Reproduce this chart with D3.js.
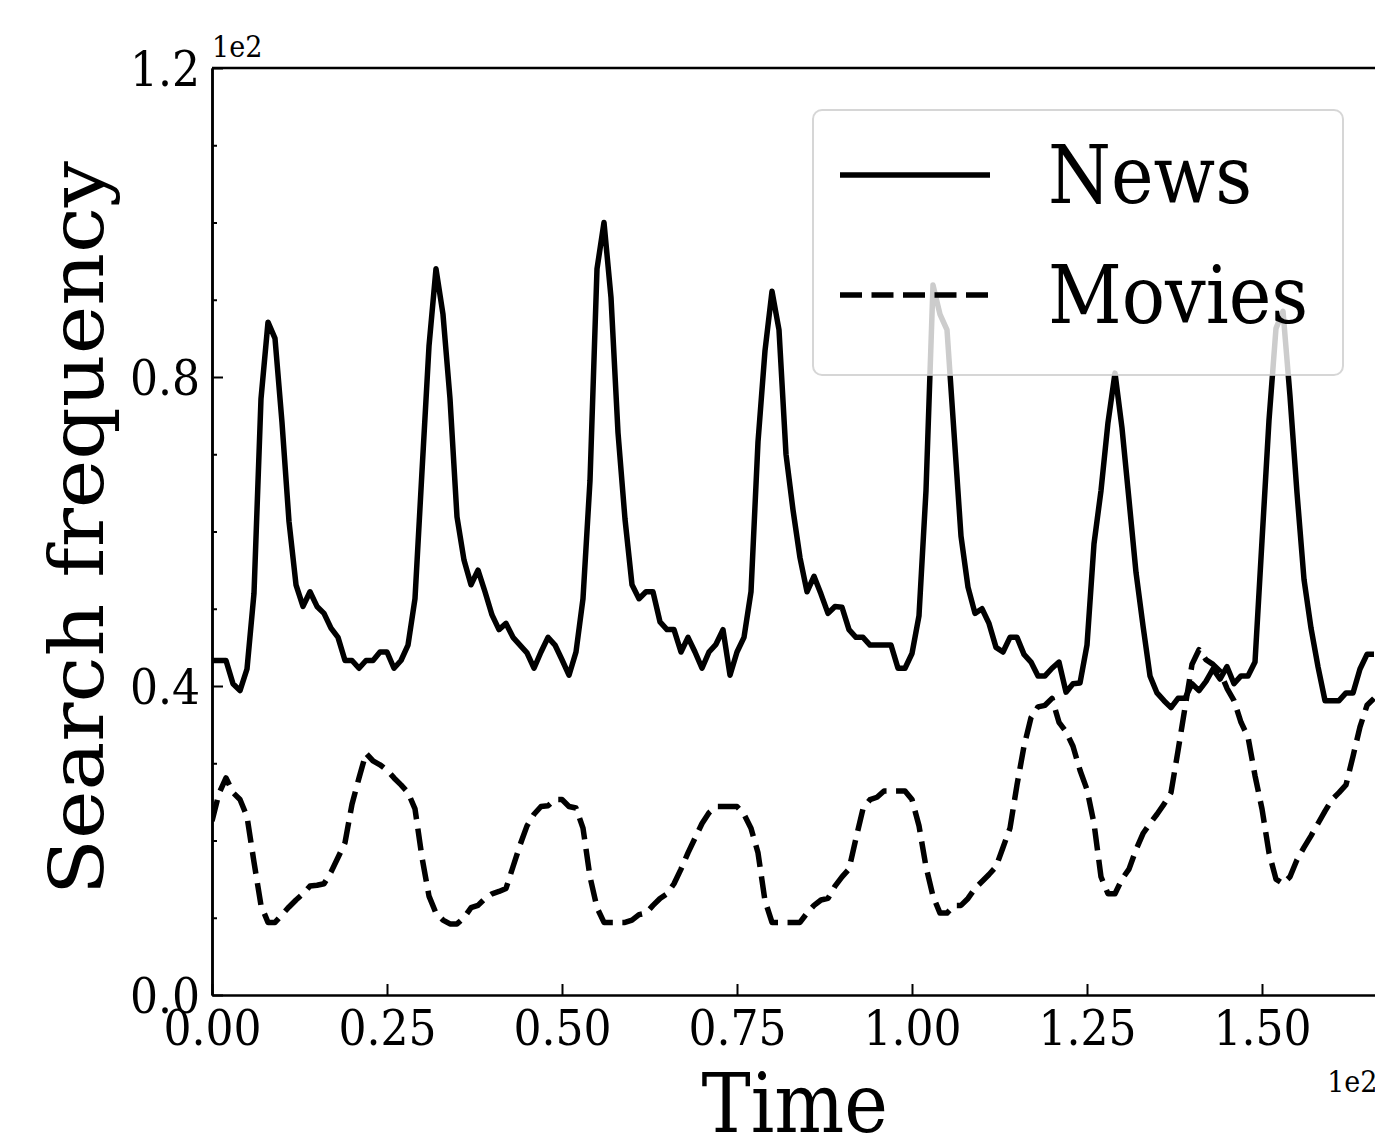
<!DOCTYPE html>
<html>
<head>
<meta charset="utf-8">
<script src="https://cdn.jsdelivr.net/npm/d3@7"></script>
<style>
    body { margin: 0; background: #fff; overflow: hidden; }
    svg { display: block; }
    text { font-family: "DejaVu Serif Condensed", "DejaVu Serif", serif; font-stretch: condensed; fill: #000; }
    text.ylabel { font-family: "DejaVu Serif", serif; font-stretch: normal; }
</style>
</head>
<body>
<div id="container"></div>
<script>
"use strict";

// search frequency per time step (t = 0, 1, 2 ...)
var newsValues = [43.3, 43.3, 43.3, 40.3, 39.4, 42.2, 52, 77.2, 87.1, 85,
    74.1, 61.3, 53.1, 50.3, 52.2, 50.3, 49.4, 47.5, 46.3, 43.3,
    43.3, 42.3, 43.3, 43.3, 44.4, 44.4, 42.3, 43.3, 45.3, 51.3,
    67.8, 84, 94, 88.1, 77.2, 61.9, 56.3, 53.1, 55, 52.2,
    49.2, 47.3, 48.1, 46.3, 45.3, 44.3, 42.3, 44.4, 46.3, 45.3,
    43.4, 41.4, 44.4, 51.3, 66.6, 94, 100, 90.3, 72.8, 61.6,
    53.1, 51.3, 52.2, 52.2, 48.3, 47.3, 47.3, 44.4, 46.3, 44.4,
    42.3, 44.4, 45.4, 47.3, 41.4, 44.4, 46.3, 52.2, 71.6, 83.4,
    91.1, 86.1, 70, 62.8, 56.6, 52.2, 54.2, 51.9, 49.4, 50.3,
    50.2, 47.3, 46.3, 46.3, 45.3, 45.3, 45.3, 45.3, 42.3, 42.3,
    44.2, 49.1, 65.3, 91.9, 88.1, 86.1, 72.8, 59.4, 52.8, 49.4,
    50, 48.1, 45, 44.4, 46.3, 46.3, 44.1, 43.1, 41.3, 41.3,
    42.3, 43.1, 39.2, 40.3, 40.4, 45.3, 58.4, 65.3, 74.1, 80.5,
    73.4, 64.1, 54.7, 47.8, 41.3, 39.1, 38.1, 37.2, 38.4, 38.4,
    40.3, 39.4, 40.6, 42.2, 40.9, 42.5, 40.3, 41.3, 41.3, 43.1,
    58.8, 74.4, 86.3, 88.5, 77.5, 65, 53.8, 47.5, 42.5, 38.1,
    38.1, 38.1, 39.1, 39.1, 42.2, 44.1, 44.1];

var moviesValues = [22.5, 26.1, 28.1, 26.2, 25.3, 23.1, 17.2, 11.6, 9.4, 9.4,
    10.4, 11.4, 12.3, 13.1, 14.1, 14.2, 14.4, 15.9, 17.8, 19.7,
    24.7, 28.1, 31.3, 30.3, 29.8, 29.1, 28.1, 27.2, 26.2, 24.1,
    17.8, 12.8, 10.6, 9.7, 9.2, 9.2, 10, 11.3, 11.6, 12.5,
    13.1, 13.4, 13.8, 16.6, 19.4, 21.9, 23.4, 24.4, 24.5, 25.3,
    25.3, 24.4, 24.2, 21.6, 15.3, 11.3, 9.4, 9.4, 9.4, 9.4,
    9.7, 10.4, 10.6, 11.6, 12.5, 13.1, 14.4, 16.3, 18.4, 20.3,
    22.2, 23.6, 24.4, 24.4, 24.4, 24.4, 23.4, 21.6, 18.4, 12.2,
    9.4, 9.4, 9.4, 9.4, 9.4, 10.6, 11.6, 12.3, 12.5, 14.1,
    15.3, 16.3, 20.3, 24.1, 25.3, 25.6, 26.4, 26.4, 26.4, 26.4,
    25.3, 21.9, 16.6, 12.8, 10.6, 10.6, 11.6, 11.6, 12.5, 13.8,
    14.7, 15.6, 16.6, 19.1, 21.6, 27.2, 32.2, 35.9, 37.3, 37.5,
    38.4, 35.3, 34.1, 32.2, 29.1, 26.6, 22.2, 15.3, 13.1, 13.1,
    15, 16.3, 18.8, 20.9, 22.2, 23.4, 24.7, 26.2, 31.6, 37.2,
    42.8, 44.7, 43.4, 42.8, 41.9, 39.7, 38.1, 35.3, 33.4, 28.4,
    24.1, 18.4, 15, 14.4, 15.3, 17.5, 19.1, 20.6, 22.2, 23.8,
    25.3, 26.2, 27.2, 30.9, 34.7, 37.5, 38.4];

var seriesNames = ["News", "Movies"];

// ticks (labels shown in units of 1e2)
var xTickValues = [0, 25, 50, 75, 100, 125, 150, 175];
var xTickLabels = ["0.00", "0.25", "0.50", "0.75", "1.00", "1.25", "1.50", "1.75"];
var yTickValues = [0, 40, 80, 120];
var yTickLabels = ["0.0", "0.4", "0.8", "1.2"];
var yMinorTicks = [10, 20, 30, 50, 60, 70, 90, 100, 110];

var width = 1375;
var height = 1136;
var plotLeft = 212;
var plotTop = 68;
var plotRight = 1377.5;
var plotBottom = 995;

var lineWidth = 5.5;
var dashPattern = "22,9.5";

var svg = d3.select("#container").append("svg")
    .attr("width", width)
    .attr("height", height);

var x = d3.scaleLinear().domain([0, 166.5]).range([plotLeft, plotRight]);
var y = d3.scaleLinear().domain([0, 120]).range([plotBottom, plotTop]);

//y axis, ticks pointing inwards
var yAxis = d3.axisLeft(y)
    .tickValues(yTickValues)
    .tickFormat(function (d, i) { return yTickLabels[i]; })
    .tickSizeInner(-11)
    .tickSizeOuter(0)
    .tickPadding(12);

var yMinor = d3.axisLeft(y)
    .tickValues(yMinorTicks)
    .tickFormat("")
    .tickSizeInner(-5)
    .tickSizeOuter(0);

var xAxis = d3.axisBottom(x)
    .tickValues(xTickValues)
    .tickFormat(function (d, i) { return xTickLabels[i]; })
    .tickSizeInner(-11)
    .tickSizeOuter(0)
    .tickPadding(12);

//the data lines, clipped to the axes box
svg.append("clipPath").attr("id", "plot-clip")
    .append("rect")
    .attr("x", plotLeft).attr("y", plotTop)
    .attr("width", plotRight - plotLeft).attr("height", plotBottom - plotTop);

var line = d3.line()
    .x(function (d, i) { return x(i); })
    .y(function (d) { return y(d); });

var plot = svg.append("g").attr("clip-path", "url(#plot-clip)");

plot.append("path")
    .datum(newsValues)
    .attr("d", line)
    .style("fill", "none")
    .style("stroke", "#000")
    .style("stroke-width", lineWidth)
    .style("stroke-linejoin", "round");

plot.append("path")
    .datum(moviesValues)
    .attr("d", line)
    .style("fill", "none")
    .style("stroke", "#000")
    .style("stroke-width", lineWidth)
    .style("stroke-dasharray", dashPattern)
    .style("stroke-linejoin", "round");

//axes
var gy = svg.append("g").attr("transform", "translate(" + plotLeft + ",0)").call(yAxis);
var gyMinor = svg.append("g").attr("transform", "translate(" + plotLeft + ",0)").call(yMinor);
var gx = svg.append("g").attr("transform", "translate(0," + plotBottom + ")").call(xAxis);

[gy, gyMinor, gx].forEach(function (g) {
    g.attr("font-family", null).attr("font-size", null);
    g.selectAll("path.domain").style("stroke", "#000").style("stroke-width", 2.5);
    g.selectAll(".tick line").style("stroke", "#000").style("stroke-width", 2);
    g.selectAll(".tick text").style("font-size", "49px");
});
gy.selectAll(".tick text").attr("dy", "0.36em");
gx.selectAll(".tick text").attr("dy", "0.78em");

//top and right spines
svg.append("line")
    .attr("x1", plotLeft).attr("x2", plotRight)
    .attr("y1", plotTop).attr("y2", plotTop)
    .style("stroke", "#000").style("stroke-width", 2.5);
svg.append("line")
    .attr("x1", plotRight).attr("x2", plotRight)
    .attr("y1", plotTop).attr("y2", plotBottom)
    .style("stroke", "#000").style("stroke-width", 2.5);

//offset texts
svg.append("text")
    .attr("x", plotLeft)
    .attr("y", 57)
    .style("font-size", "30px")
    .text("1e2");

svg.append("text")
    .attr("x", plotRight)
    .attr("y", 1092)
    .attr("text-anchor", "end")
    .style("font-size", "30px")
    .text("1e2");

//axis titles
svg.append("text")
    .attr("x", (plotLeft + plotRight) / 2)
    .attr("y", 1132)
    .attr("text-anchor", "middle")
    .style("font-size", "82px")
    .text("Time");

svg.append("text")
    .attr("class", "ylabel")
    .attr("transform", "translate(103,528) scale(0.92,1) rotate(-90)")
    .attr("text-anchor", "middle")
    .style("font-size", "82px")
    .text("Search frequency");

//legend
var legend = svg.append("g");

legend.append("rect")
    .attr("x", 813).attr("y", 110)
    .attr("width", 530).attr("height", 265)
    .attr("rx", 9)
    .style("fill", "#fff")
    .style("fill-opacity", 0.8)
    .style("stroke", "#cccccc")
    .style("stroke-opacity", 0.8)
    .style("stroke-width", 2);

seriesNames.forEach(function (name, i) {
    var rowY = 175 + i * 120;
    legend.append("line")
        .attr("x1", 840).attr("x2", 990)
        .attr("y1", rowY).attr("y2", rowY)
        .style("stroke", "#000")
        .style("stroke-width", lineWidth)
        .style("stroke-dasharray", i === 1 ? dashPattern : null);
    legend.append("text")
        .attr("x", 1048)
        .attr("y", rowY + 28)
        .style("font-size", "80px")
        .text(name);
});
</script>
</body>
</html>
